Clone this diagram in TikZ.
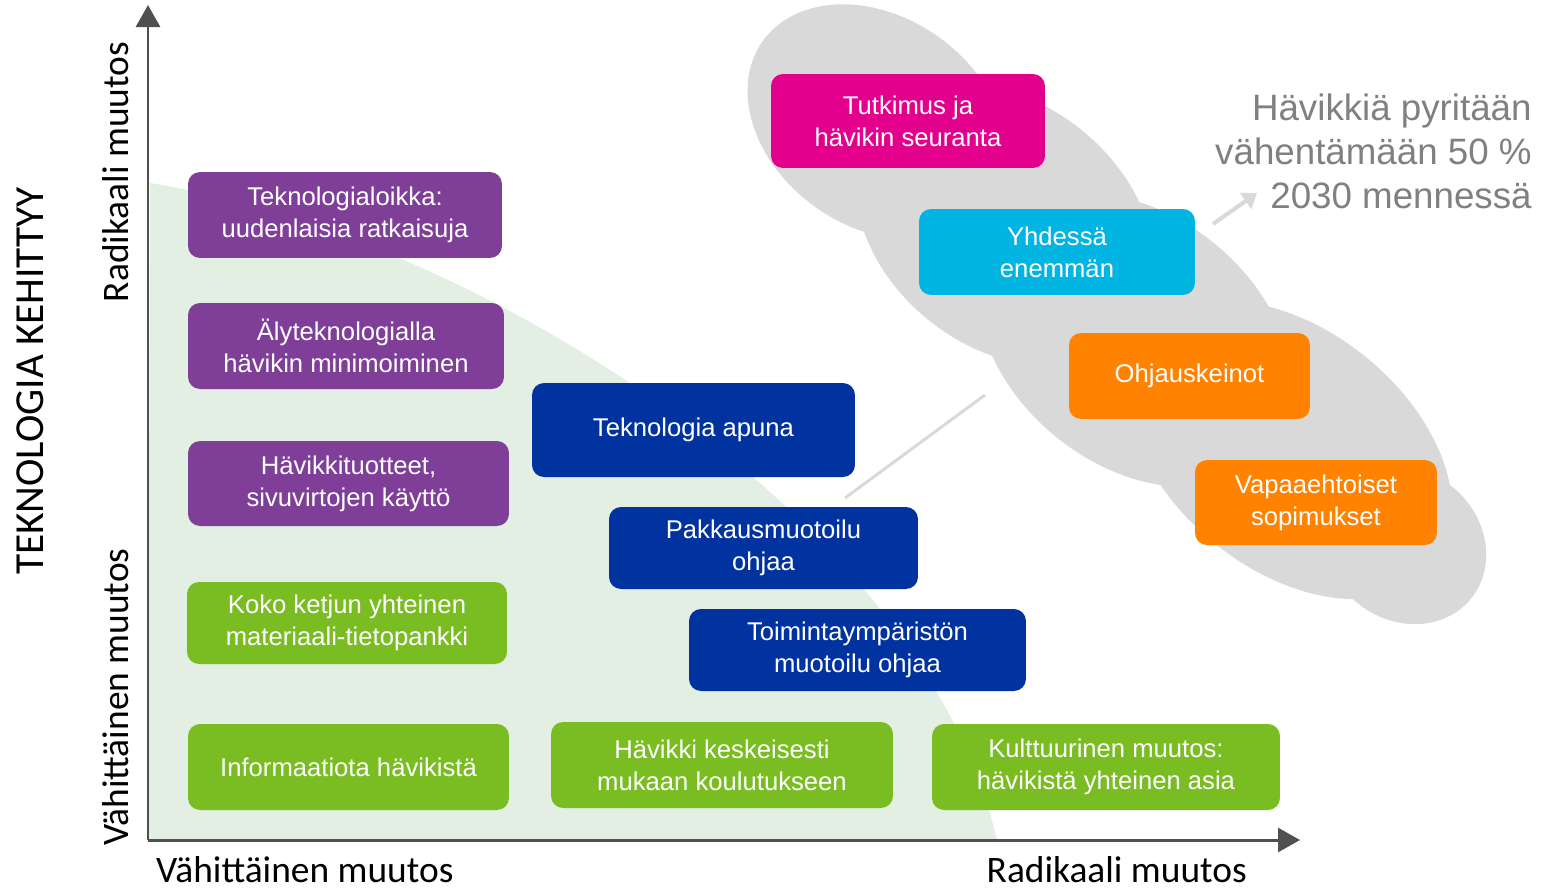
\documentclass[tikz,border=0pt]{standalone}
\usepackage{fontspec}
\setmainfont{Liberation Sans}
\newfontfamily\axisfont{Carlito}
\usepackage{tikz}
\usetikzlibrary{arrows.meta}

\definecolor{lila}{RGB}{127,63,152}
\definecolor{vihrea}{RGB}{122,189,35}
\definecolor{tummasin}{RGB}{0,51,160}
\definecolor{magenta}{RGB}{227,0,140}
\definecolor{syaani}{RGB}{0,181,226}
\definecolor{oranssi}{RGB}{255,130,0}
\definecolor{pilvi}{RGB}{217,217,217}
\definecolor{vaaleavihrea}{RGB}{226,239,226}
\definecolor{akseli}{RGB}{80,80,80}
\definecolor{harmaateksti}{RGB}{128,128,128}

\begin{document}
\begin{tikzpicture}[x=0.02cm, y=-0.02cm,
		box/.style={rounded corners=0.24cm, text=white, align=center, inner sep=0pt,
			font=\fontsize{14.6}{18.1}\selectfont},
		axislabel/.style={font=\axisfont\fontsize{21.3}{24}\selectfont},
		lobe/.style={fill=pilvi}]
		\useasboundingbox (0,0) rectangle (1542,890);
		
		\coordinate (O) at (148,840);
		\coordinate (Y) at (148,5);
		\coordinate (X) at (1300,840);
		
		\fill[vaaleavihrea] (150,183) .. controls (470,235) and (920,510) .. (997,840) -- (O) -- cycle;
		
		\fill[lobe, rotate around={-35:(877,122)}] (877,122) ellipse [x radius=140, y radius=105];
		\fill[lobe, rotate around={-39:(1005,225)}] (1005,225) ellipse [x radius=165, y radius=122];
		\fill[lobe, rotate around={-39:(1135,340)}] (1135,340) ellipse [x radius=175, y radius=125];
		\fill[lobe, rotate around={-39:(1290,450)}] (1290,450) ellipse [x radius=185, y radius=120];
		\fill[lobe, rotate around={-39:(1405,545)}] (1405,545) ellipse [x radius=85, y radius=75];
		
		\draw[akseli, line width=1.7pt, -{Triangle[length=0.44cm, width=0.48cm]}] (O) -- (Y);
		\draw[akseli, line width=1.7pt, -{Triangle[length=0.44cm, width=0.48cm]}] (O) -- (X);
		
		\node[axislabel, rotate=90] (ylab1) at (116,172) {Radikaali muutos};
		\node[axislabel, rotate=90] (ylab2) at (116,697) {Vähittäinen muutos};
		\node[axislabel, rotate=90, font=\axisfont\fontsize{23.5}{26}\selectfont] (ytitle) at (30,381) {TEKNOLOGIA KEHITTYY};
		\node[axislabel, anchor=base west] (xlab1) at (150,882) {Vähittäinen muutos};
		\node[axislabel, anchor=base east] (xlab2) at (1253,882) {Radikaali muutos};
		
		\coordinate (pointer) at (845,498);
		\coordinate (incloud) at (985,395);
		\draw[pilvi, line width=1.7pt] (pointer) -- (incloud);
		
		\node[box, fill=lila, minimum width=6.28cm, minimum height=1.72cm] (loikka) at (345,215)
			{Teknologialoikka:\\uudenlaisia ratkaisuja};
		\node[box, fill=lila, minimum width=6.32cm, minimum height=1.72cm] (aly) at (346,346)
			{Älyteknologialla\\hävikin minimoiminen};
		\node[box, fill=lila, minimum width=6.42cm, minimum height=1.70cm] (tuotteet) at (348.5,483.5)
			{Hävikkituotteet,\\sivuvirtojen käyttö};
		\node[box, fill=vihrea, minimum width=6.40cm, minimum height=1.64cm] (ketju) at (347,623)
			{Koko ketjun yhteinen\\materiaali-tietopankki};
		\node[box, fill=vihrea, minimum width=6.42cm, minimum height=1.72cm] (info) at (348.5,767)
			{Informaatiota hävikistä};
		\node[box, fill=vihrea, minimum width=6.84cm, minimum height=1.72cm] (koulutus) at (722,765)
			{Hävikki keskeisesti\\mukaan koulutukseen};
		\node[box, fill=vihrea, minimum width=6.96cm, minimum height=1.72cm] (kulttuuri) at (1106,767)
			{Kulttuurinen muutos:\\hävikistä yhteinen asia};
		\node[box, fill=tummasin, minimum width=6.46cm, minimum height=1.88cm] (apuna) at (693.5,430)
			{Teknologia apuna};
		\node[box, fill=tummasin, minimum width=6.18cm, minimum height=1.64cm] (pakkaus) at (763.5,548)
			{Pakkausmuotoilu\\ohjaa};
		\node[box, fill=tummasin, minimum width=6.74cm, minimum height=1.64cm] (ymparisto) at (857.5,650)
			{Toimintaympäristön\\muotoilu ohjaa};
		\node[box, fill=magenta, minimum width=5.48cm, minimum height=1.88cm] (tutkimus) at (908,121)
			{Tutkimus ja\\hävikin seuranta};
		\node[box, fill=syaani, minimum width=5.52cm, minimum height=1.72cm] (yhdessa) at (1057,252)
			{Yhdessä\\enemmän};
		\node[box, fill=oranssi, minimum width=4.82cm, minimum height=1.72cm] (ohjaus) at (1189.5,376)
			{Ohjauskeinot};
		\node[box, fill=oranssi, minimum width=4.84cm, minimum height=1.70cm] (sopimukset) at (1316,502.5)
			{Vapaaehtoiset\\sopimukset};
		
		\node[text=harmaateksti, align=right, anchor=east, inner sep=0pt,
			font=\fontsize{20.9}{25}\selectfont] (tavoite) at (1532,151)
			{Hävikkiä pyritään\\vähentämään 50 \%\\2030 mennessä};
		\coordinate (cloudedge) at (1213,224);
		\coordinate (goal) at (1257,193);
		\draw[pilvi, line width=2.3pt, -{Triangle[length=0.28cm, width=0.38cm]}] (cloudedge) -- (goal);
	\end{tikzpicture}
\end{document}
